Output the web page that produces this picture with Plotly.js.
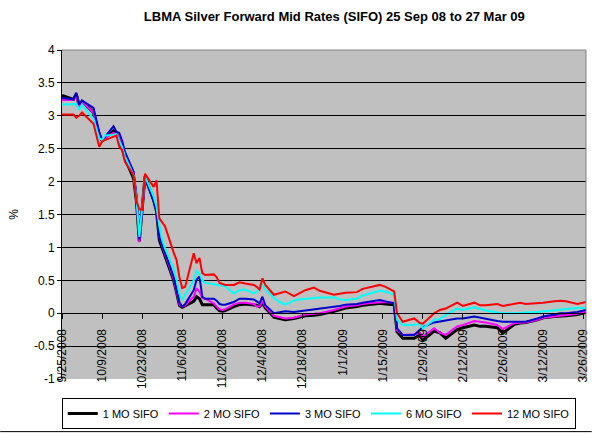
<!DOCTYPE html>
<html>
<head>
<meta charset="utf-8">
<script src="https://cdn.plot.ly/plotly-3.0.1.min.js"></script>
<style>html,body{margin:0;padding:0;background:#fff;}#chart{width:597px;height:433px;}</style>
</head>
<body>
<div id="chart"></div>
<script>
var dates = ["2008-09-25","2008-09-29","2008-09-30","2008-10-01","2008-10-02","2008-10-06","2008-10-08","2008-10-09","2008-10-10","2008-10-13",
"2008-10-14","2008-10-15","2008-10-16","2008-10-17","2008-10-20","2008-10-21","2008-10-22","2008-10-23","2008-10-24","2008-10-27",
"2008-10-28","2008-10-29","2008-10-30","2008-10-31","2008-11-03","2008-11-04","2008-11-05","2008-11-06","2008-11-07","2008-11-10",
"2008-11-11","2008-11-12","2008-11-13","2008-11-14","2008-11-17","2008-11-18","2008-11-19","2008-11-20","2008-11-21","2008-11-24",
"2008-11-26","2008-11-28","2008-12-01","2008-12-02","2008-12-03","2008-12-04","2008-12-05","2008-12-08","2008-12-10","2008-12-12",
"2008-12-15","2008-12-17","2008-12-19","2008-12-22","2008-12-24","2008-12-29","2008-12-31","2009-01-02","2009-01-06","2009-01-08",
"2009-01-12","2009-01-14","2009-01-16","2009-01-19","2009-01-20","2009-01-22","2009-01-26","2009-01-28","2009-01-29","2009-02-02",
"2009-02-04","2009-02-06","2009-02-10","2009-02-12","2009-02-16","2009-02-18","2009-02-20","2009-02-24","2009-02-26","2009-03-02",
"2009-03-04","2009-03-06","2009-03-10","2009-03-12","2009-03-16","2009-03-18","2009-03-20","2009-03-24","2009-03-27"];

var sifo1 = [3.31,3.25,3.33,3.15,3.22,3.05,2.72,2.62,2.66,2.77,
2.72,2.65,2.52,2.35,2.05,1.70,1.09,1.55,2.08,1.72,
1.55,1.11,0.99,0.88,0.50,0.32,0.12,0.09,0.11,0.18,
0.25,0.22,0.13,0.13,0.13,0.08,0.04,0.03,0.04,0.10,
0.13,0.14,0.13,0.12,0.10,0.15,0.08,-0.06,-0.08,-0.10,
-0.08,-0.06,-0.04,-0.03,-0.02,0.03,0.06,0.08,0.10,0.12,
0.14,0.15,0.14,0.13,-0.28,-0.38,-0.38,-0.33,-0.41,-0.27,
-0.30,-0.38,-0.25,-0.22,-0.18,-0.20,-0.20,-0.22,-0.30,-0.17,
-0.15,-0.14,-0.10,-0.07,-0.05,-0.05,-0.04,-0.02,0.01];

var sifo2 = [3.24,3.24,3.30,3.14,3.21,3.05,2.70,2.62,2.66,2.74,
2.72,2.68,2.58,2.42,2.15,1.75,1.08,1.55,2.05,1.72,
1.55,1.15,1.02,0.90,0.52,0.33,0.13,0.10,0.12,0.25,
0.38,0.33,0.23,0.22,0.15,0.10,0.06,0.05,0.06,0.13,
0.16,0.16,0.14,0.10,0.10,0.18,0.10,-0.04,-0.06,-0.08,
-0.07,-0.04,-0.02,-0.01,0.00,0.05,0.08,0.10,0.12,0.14,
0.16,0.17,0.17,0.16,-0.26,-0.33,-0.32,-0.30,-0.36,-0.23,
-0.30,-0.33,-0.20,-0.18,-0.12,-0.13,-0.14,-0.18,-0.24,-0.15,
-0.14,-0.14,-0.10,-0.07,-0.05,-0.04,-0.03,-0.01,0.03];

var sifo3 = [3.27,3.25,3.35,3.17,3.23,3.12,2.75,2.63,2.68,2.84,
2.76,2.74,2.62,2.45,2.15,1.80,1.12,1.55,2.05,1.70,
1.55,1.15,1.02,0.92,0.55,0.36,0.16,0.10,0.14,0.35,
0.51,0.56,0.25,0.22,0.22,0.19,0.14,0.13,0.13,0.17,
0.22,0.22,0.21,0.18,0.15,0.25,0.12,0.00,0.01,0.03,
0.02,0.03,0.04,0.06,0.07,0.09,0.11,0.13,0.14,0.16,
0.19,0.20,0.18,0.15,-0.23,-0.33,-0.33,-0.25,-0.21,-0.14,
-0.13,-0.11,-0.08,-0.08,-0.05,-0.07,-0.09,-0.12,-0.13,-0.13,
-0.13,-0.13,-0.08,-0.05,-0.02,0.00,0.00,0.02,0.05];

var sifo6 = [3.17,3.17,3.18,3.10,3.17,2.95,2.66,2.63,2.70,2.71,
2.72,2.62,2.52,2.38,2.10,1.75,1.16,1.60,2.08,1.77,
1.62,1.32,1.11,0.98,0.68,0.51,0.30,0.20,0.28,0.50,
0.64,0.60,0.50,0.46,0.44,0.43,0.43,0.42,0.41,0.30,
0.35,0.36,0.30,0.33,0.40,0.43,0.36,0.23,0.17,0.13,
0.19,0.21,0.22,0.24,0.24,0.24,0.21,0.20,0.22,0.27,
0.31,0.34,0.33,0.28,-0.10,-0.18,-0.18,-0.16,-0.23,-0.10,
-0.09,-0.03,0.07,0.05,0.09,0.06,0.04,0.01,0.00,0.00,
0.00,0.01,0.02,0.03,0.04,0.06,0.07,0.08,0.08];

var sifo12 = [3.02,3.02,2.97,3.00,3.05,2.88,2.53,2.61,2.63,2.68,
2.70,2.53,2.48,2.30,2.10,1.70,1.58,1.57,2.12,1.92,
2.02,1.44,1.38,1.32,0.92,0.81,0.55,0.38,0.40,0.91,
0.76,0.84,0.61,0.58,0.59,0.55,0.46,0.45,0.43,0.43,
0.47,0.45,0.43,0.40,0.36,0.53,0.43,0.28,0.31,0.33,
0.26,0.30,0.35,0.39,0.34,0.28,0.30,0.31,0.32,0.37,
0.41,0.43,0.40,0.33,0.00,-0.13,-0.08,-0.15,-0.16,0.00,
0.05,0.07,0.16,0.11,0.16,0.12,0.12,0.14,0.11,0.14,
0.16,0.14,0.15,0.16,0.18,0.19,0.18,0.14,0.17];

var seriesNames = ["1 MO SIFO","2 MO SIFO","3 MO SIFO","6 MO SIFO","12 MO SIFO"];
var yTickVals = [-1,-0.5,0,0.5,1,1.5,2,2.5,3,3.5,4];
var yTickText = ["-1","-0.5","0","0.5","1","1.5","2","2.5","3","3.5","4"];

var seriesValues = [sifo1, sifo2, sifo3, sifo6, sifo12];
var colors = ["#000000","#FF00FF","#0000CC","#00FFFF","#FF0000"];
var widths = [3, 2, 2, 2, 2];

var traces = seriesValues.map(function(v, i){
  return {x: dates, y: v, type: "scatter", mode: "lines", name: seriesNames[i],
    line: {color: colors[i], width: widths[i]}, hoverinfo: "skip"};
});

var F = "Liberation Sans, Arial, sans-serif";
var layout = {
  width: 597, height: 433,
  margin: {l: 62, r: 11, t: 50, b: 54, pad: 0, autoexpand: false},
  paper_bgcolor: "#FFFFFF",
  plot_bgcolor: "#C0C0C0",
  font: {family: F, size: 12, color: "#000"},
  title: {text: "<b>LBMA Silver Forward Mid Rates (SIFO) 25 Sep 08 to 27 Mar 09</b>",
    font: {family: F, size: 13, color: "#000"}, x: 0.56, xanchor: "center", y: 0.962, yanchor: "middle"},
  showlegend: true,
  legend: {orientation: "h", x: 0.49, xanchor: "center", y: -0.058, yanchor: "top",
    bordercolor: "#000", borderwidth: 1, bgcolor: "#FFF", font: {family: F, size: 11},
    itemwidth: 30, tracegroupgap: 0},
  xaxis: {type: "date", range: ["2008-09-25", "2009-03-27"], anchor: "free", position: 0.2,
    tick0: "2008-09-25", dtick: 14 * 86400000, tickformat: "%-m/%-d/%Y", tickangle: -90,
    ticks: "outside", ticklen: 5, tickcolor: "#000", showline: true, linecolor: "#000", linewidth: 1,
    ticklabelstandoff: 5,
    showgrid: false, zeroline: false, tickfont: {family: F, size: 12}, fixedrange: true},
  yaxis: {range: [-1, 4], tickvals: yTickVals, ticktext: yTickText, ticks: "outside", ticklen: 4,
    tickcolor: "#000", showline: true, linecolor: "#000", linewidth: 1, showgrid: true,
    gridcolor: "#000", gridwidth: 1, zeroline: false, tickfont: {family: F, size: 12},
    title: {text: "%", font: {family: F, size: 12}, standoff: 12}, fixedrange: true},
  shapes: [
    {type: "line", xref: "paper", yref: "paper", x0: 0, x1: 1, y0: 1, y1: 1, line: {color: "#808080", width: 1}},
    {type: "line", xref: "paper", yref: "paper", x0: 1, x1: 1, y0: 0, y1: 1, line: {color: "#808080", width: 1}},
    {type: "line", xref: "paper", yref: "paper", x0: -0.118, x1: 1.011, y0: -0.16, y1: -0.16, line: {color: "#000", width: 1}}
  ]
};

Plotly.newPlot("chart", traces, layout, {staticPlot: true, displayModeBar: false});
</script>
</body>
</html>
